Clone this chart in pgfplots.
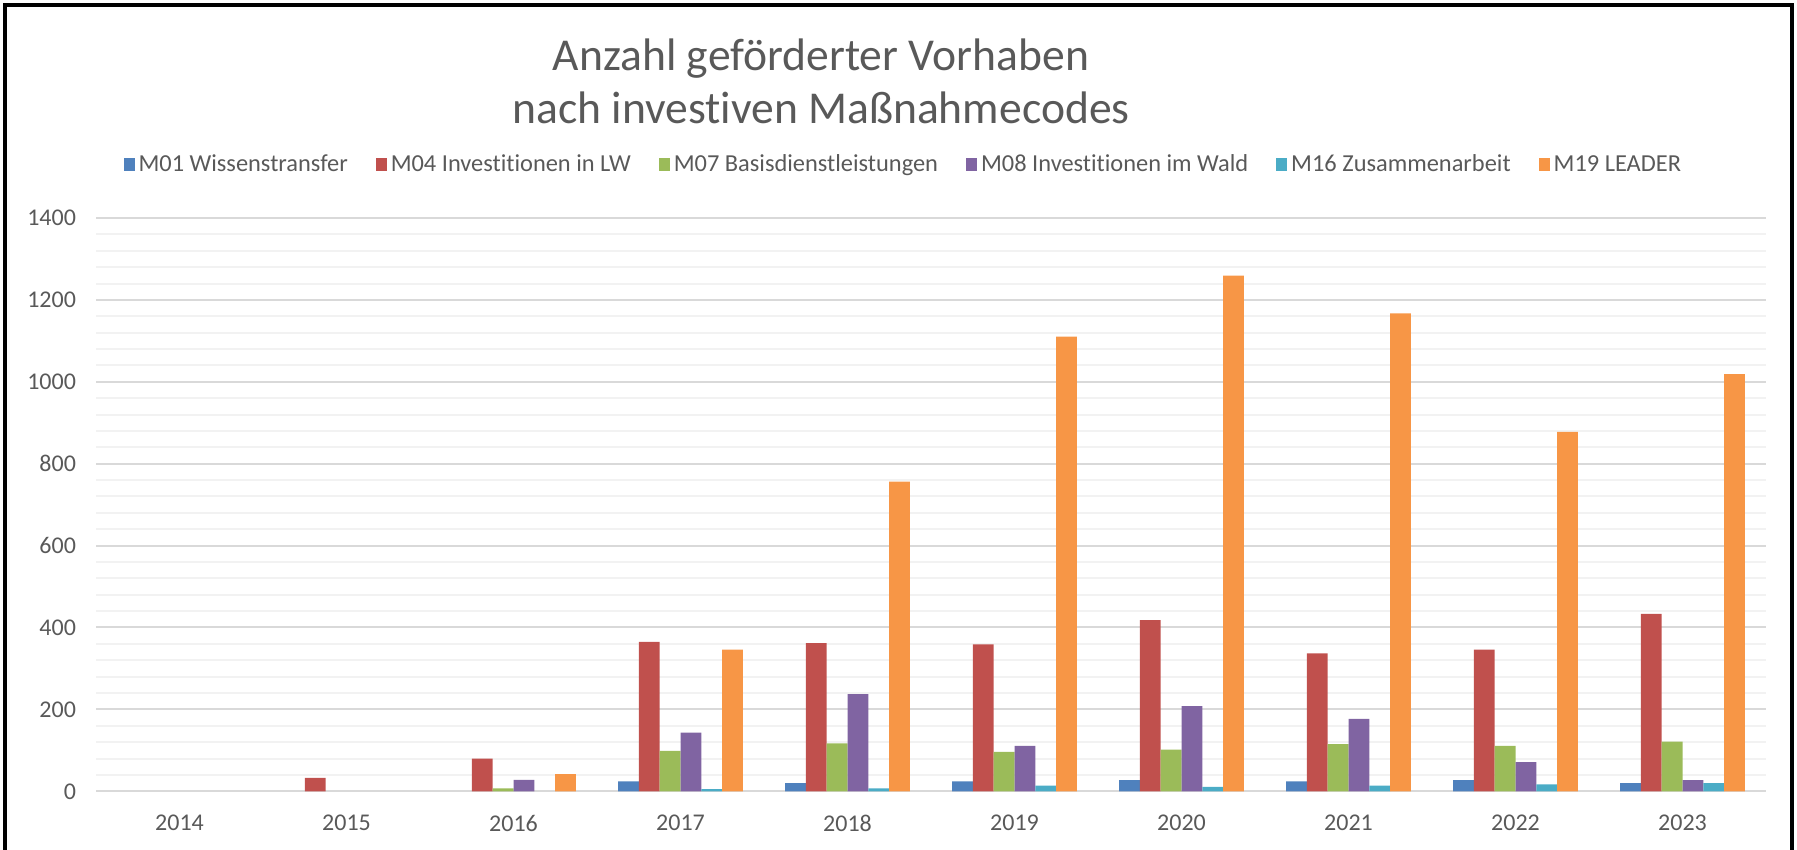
\documentclass[border=0pt]{standalone}
\usepackage{fontspec}
\setmainfont{Carlito}[Ligatures=NoCommon]
\usepackage{pgfplots}
\pgfplotsset{compat=1.18}
\definecolor{c1}{HTML}{4F81BD}
\definecolor{c2}{HTML}{C0504D}
\definecolor{c3}{HTML}{9BBB59}
\definecolor{c4}{HTML}{8064A2}
\definecolor{c5}{HTML}{4BACC6}
\definecolor{c6}{HTML}{F79646}
\definecolor{txt}{HTML}{595959}
\definecolor{gridmaj}{HTML}{D9D9D9}
\definecolor{gridmin}{HTML}{F2F2F2}
\begin{document}
\begin{tikzpicture}[x=1pt,y=1pt]
\useasboundingbox (0,0) rectangle (898.5,425);
\draw[line width=1.7pt] (2.5,-2) -- (2.5,422.5) -- (896,422.5) -- (896,-2);
\node[text=txt, align=center, font=\fontsize{22.8}{26.5}\selectfont] at (410.5,384.5) {Anzahl geförderter Vorhaben\\nach investiven Maßnahmecodes};
\begin{axis}[
  at={(48pt,29.35pt)}, anchor=south west, scale only axis,
  width=835pt, height=286.65pt,
  ybar=0pt, bar width=10.4pt,
  xmin=-0.5, xmax=9.5, ymin=0, ymax=1400,
  xtick={0,1,2,3,4,5,6,7,8,9},
  xticklabels={2014,2015,2016,2017,2018,2019,2020,2021,2022,2023},
  ytick={0,200,400,600,800,1000,1200,1400},
  minor ytick={40,80,120,160,240,280,320,360,440,480,520,560,640,680,720,760,840,880,920,960,1040,1080,1120,1160,1240,1280,1320,1360},
  ymajorgrids, yminorgrids,
  major grid style={draw=gridmaj, line width=1pt},
  minor grid style={draw=gridmin, line width=1pt},
  axis line style={draw=none},
  major tick length=0pt, minor tick length=0pt,
  tick label style={font=\fontsize{12}{13}\selectfont, text=txt},
  yticklabel style={xshift=-6.5pt},
  xticklabel style={yshift=-8.5pt},
  /pgf/number format/assume math mode=true,
  /pgf/number format/1000 sep={},
  legend columns=6,
  legend style={at={(0.484,1.0925)}, anchor=center, draw=none, fill=none,
    font=\fontsize{12.2}{13}\selectfont, text=txt,
    /tikz/every even column/.append style={column sep=12pt}},
  legend cell align=left,
  legend image code/.code={\fill[#1] (0pt,-3.2pt) rectangle (5.5pt,3.4pt);},
]
\addplot[fill=c1, draw=none] coordinates {(3,24) (4,20) (5,24) (6,27) (7,24) (8,27) (9,20)};
\addplot[fill=c2, draw=none] coordinates {(1,33) (2,80) (3,365) (4,362) (5,359) (6,418) (7,337) (8,346) (9,433)};
\addplot[fill=c3, draw=none] coordinates {(2,7) (3,99) (4,117) (5,96) (6,102) (7,115) (8,111) (9,121)};
\addplot[fill=c4, draw=none] coordinates {(2,28) (3,143) (4,237) (5,111) (6,208) (7,177) (8,71) (9,27)};
\addplot[fill=c5, draw=none] coordinates {(3,5) (4,7) (5,14) (6,11) (7,14) (8,17) (9,20)};
\addplot[fill=c6, draw=none] coordinates {(2,42) (3,346) (4,756) (5,1110) (6,1259) (7,1167) (8,878) (9,1019)};
\legend{M01 Wissenstransfer, M04 Investitionen in LW, M07 Basisdienstleistungen, M08 Investitionen im Wald, M16 Zusammenarbeit, M19 LEADER}
\end{axis}
\end{tikzpicture}
\end{document}
